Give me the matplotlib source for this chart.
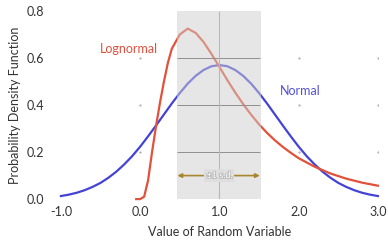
import numpy as np
import matplotlib.pyplot as plt
import matplotlib.patheffects as pe

plt.rcParams['font.family'] = ['Lato', 'DejaVu Sans']

# curvas
x_normal = [-1.0, -0.9, -0.8, -0.7, -0.6, -0.5, -0.4, -0.3, -0.2, -0.1, 0.0,
            0.1, 0.2, 0.3, 0.4, 0.5, 0.6, 0.7, 0.8, 0.9, 1.0,
            1.1, 1.2, 1.3, 1.4, 1.5, 1.6, 1.7, 1.8, 1.9, 2.0,
            2.1, 2.2, 2.3, 2.4, 2.5, 2.6, 2.7, 2.8, 2.9, 3.0]
y_normal = [0.013, 0.019, 0.027, 0.038, 0.052, 0.069, 0.091, 0.117, 0.148, 0.183, 0.223,
            0.267, 0.313, 0.360, 0.407, 0.451, 0.491, 0.524, 0.549, 0.565, 0.570,
            0.565, 0.549, 0.524, 0.491, 0.451, 0.407, 0.360, 0.313, 0.267, 0.223,
            0.183, 0.148, 0.117, 0.091, 0.069, 0.052, 0.038, 0.027, 0.019, 0.013]

x_lognormal = [-0.05, 0.0, 0.05, 0.1, 0.15, 0.2, 0.25, 0.3, 0.35, 0.4, 0.5, 0.6, 0.7, 0.8, 0.9, 1.0,
               1.1, 1.2, 1.3, 1.4, 1.5, 1.6, 1.7, 1.8, 1.9, 2.0, 2.2, 2.4, 2.6, 2.8, 3.0]
y_lognormal = [0.0, 0.0, 0.01, 0.08, 0.20, 0.31, 0.41, 0.50, 0.58, 0.64, 0.70, 0.725, 0.707, 0.668, 0.617, 0.562,
               0.506, 0.453, 0.404, 0.359, 0.318, 0.282, 0.250, 0.222, 0.197, 0.174, 0.138, 0.109, 0.087, 0.070, 0.057]

x_ticks = [-1.0, 0.0, 1.0, 2.0, 3.0]
y_ticks = [0.0, 0.2, 0.4, 0.6, 0.8]

# faixa de +/- 1 desvio padrão
faixa = (0.47, 1.51)

fig = plt.figure(figsize=(3.88, 2.44), dpi=100)
ax = fig.add_axes([0.157, 0.184, 0.817, 0.771])

ax.plot(x_normal, y_normal, color='#4343d6', lw=1.6, clip_on=False, zorder=2)
ax.plot(x_lognormal, y_lognormal, color='#e2513a', lw=1.6, clip_on=False, zorder=2)

# caixa cinza por cima das curvas
ax.axvspan(faixa[0], faixa[1], ymin=0, ymax=1, facecolor='#cfcfcf', alpha=0.5,
           edgecolor='#d4d4d4', lw=0.6, zorder=3)
ax.hlines(y_ticks[1:4], faixa[0], faixa[1], color='#8f8f8f', lw=0.7, zorder=4)
ax.vlines(1.0, 0, 0.8, color='#b8b8b8', lw=0.8, zorder=4)

# pontinhos da grade fora da caixa
gx, gy = np.meshgrid([0.0, 2.0, 3.0], y_ticks[1:4])
ax.plot(gx.ravel(), gy.ravel(), ls='none', marker='.', ms=0.8, color='#888888', zorder=1)

# seta de 1 desvio padrão
ax.annotate('', xy=(faixa[0], 0.10), xytext=(faixa[1], 0.10),
            arrowprops=dict(arrowstyle='<|-|>', color='#a8862e', lw=1.2,
                            mutation_scale=6, shrinkA=0, shrinkB=0), zorder=5)
ax.text(1.0, 0.10, '±1 s.d.', ha='center', va='center', fontsize=6.5, color='white',
        bbox=dict(facecolor='#dedede', edgecolor='none', pad=1.5), zorder=6,
        path_effects=[pe.withStroke(linewidth=1.2, foreground='#b8b8b8')])

ax.text(-0.14, 0.64, 'Lognormal', color='#df4f3c', fontsize=9, ha='center', va='center')
ax.text(2.02, 0.46, 'Normal', color='#5252d8', fontsize=9, ha='center', va='center')

ax.set_xlim(-1.0, 3.0)
ax.set_ylim(0.0, 0.8)
ax.set_xticks(x_ticks)
ax.set_yticks(y_ticks)
ax.set_xticklabels([f'{v:.1f}' for v in x_ticks])
ax.set_yticklabels([f'{v:.1f}' for v in y_ticks])
ax.tick_params(length=0, labelsize=9, colors='#333333')
ax.tick_params(axis='y', pad=12)
ax.tick_params(axis='x', pad=5)
for s in ax.spines.values():
    s.set_visible(False)

ax.set_xlabel('Value of Random Variable', fontsize=9, color='#333333', labelpad=6)
ax.set_ylabel('Probability Density Function', fontsize=9, color='#333333', labelpad=4)

fig.savefig('out.png', dpi=100)
